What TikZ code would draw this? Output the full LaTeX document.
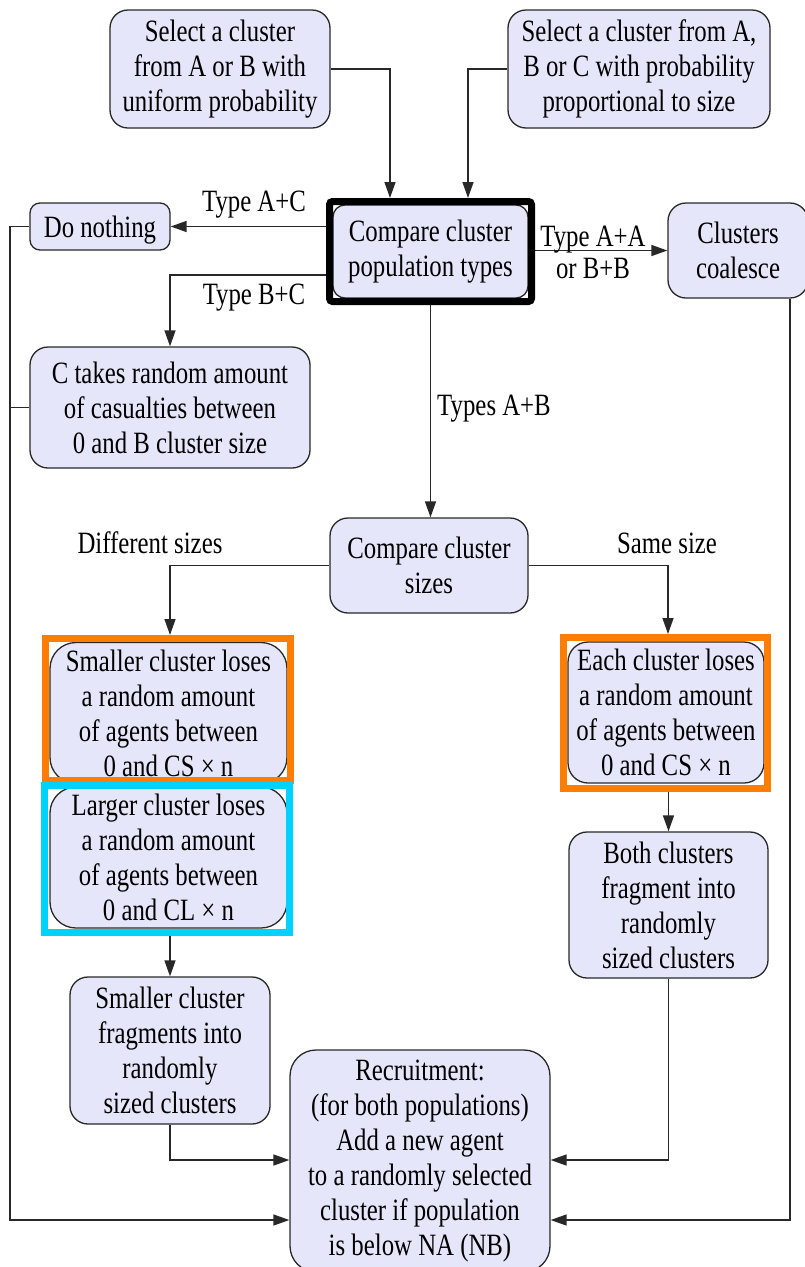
\documentclass[tikz,border=0pt]{standalone}
\usepackage{fontspec}
\setmainfont{Liberation Serif}[FakeStretch=0.8]
\usetikzlibrary{arrows.meta}
\definecolor{lav}{RGB}{230,230,250}
\definecolor{edge}{RGB}{40,40,40}
\definecolor{hlorange}{RGB}{255,125,0}
\definecolor{hlcyan}{RGB}{0,210,255}
\begin{document}
\begin{tikzpicture}[x=1pt,y=-1pt,
  box/.style={draw=edge, line width=1.3pt, fill=lav, rounded corners=18pt,
    align=center, inner sep=0pt, font=\fontsize{31}{35}\selectfont,
    execute at begin node={\rule{0pt}{29pt}}},
  lbl/.style={align=center, inner sep=0pt, font=\fontsize{31}{32}\selectfont},
  conn/.style={draw=edge, line width=1.4pt},
  arr/.style={conn, -{Triangle[length=16pt,width=11pt]}},
  hlframe/.style={draw, line width=7pt, inner sep=0pt}
]
\useasboundingbox (0,0) rectangle (804,1267);

% process boxes
\node[box, minimum width=220pt, minimum height=118pt] (sel1) at (220,69)
  {Select a cluster\\from A or B with\\uniform probability};
\node[box, minimum width=262pt, minimum height=118pt] (sel2) at (639,69)
  {Select a cluster from A,\\B or C with probability\\proportional to size};
\node[box, rounded corners=12pt, minimum width=195pt, minimum height=93pt] (cmp) at (430.5,251.5)
  {Compare cluster\\population types};
\node[hlframe, draw=black, rounded corners=3pt, minimum width=202pt, minimum height=100pt] (frame) at (430.5,251.5) {};
\node[box, rounded corners=10pt, minimum width=140pt, minimum height=47pt] (nothing) at (100,226.5)
  {Do nothing};
\node[box, minimum width=140pt, minimum height=95pt] (coal) at (738,250.5)
  {Clusters\\coalesce};
\node[box, minimum width=280pt, minimum height=121pt] (ctakes) at (170,407.5)
  {C takes random amount\\of casualties between\\0 and B cluster size};
\node[box, minimum width=198pt, minimum height=95pt] (sizes) at (429,565.5)
  {Compare cluster\\sizes};
\node[box, rounded corners=26pt, minimum width=237pt, minimum height=141pt] (smloses) at (168.5,713)
  {Smaller cluster loses\\a random amount\\of agents between\\0 and CS × n};
\node[box, rounded corners=26pt, minimum width=237pt, minimum height=141pt] (lgloses) at (168.5,857.5)
  {Larger cluster loses\\a random amount\\of agents between\\0 and CL × n};
\node[box, rounded corners=20pt, minimum width=196pt, minimum height=141pt] (each) at (666,712.5)
  {Each cluster loses\\a random amount\\of agents between\\0 and CS × n};
\node[box, minimum width=199pt, minimum height=146pt] (both) at (668.5,905)
  {Both clusters\\fragment into\\randomly\\sized clusters};
\node[box, minimum width=200pt, minimum height=147pt] (smfrag) at (170,1050.5)
  {Smaller cluster\\fragments into\\randomly\\sized clusters};
\node[box, rounded corners=26pt, minimum width=260pt, minimum height=222pt] (rec) at (420,1161)
  {Recruitment:\\(for both populations)\\Add a new agent\\to a randomly selected\\cluster if population\\is below NA (NB)};

% highlight frames
\node[hlframe, draw=hlorange, minimum width=245pt, minimum height=142pt] (ofL) at (168,709.5) {};
\node[hlframe, draw=hlorange, minimum width=204pt, minimum height=151pt] (ofR) at (665.5,713) {};
\node[hlframe, draw=hlcyan, minimum width=245pt, minimum height=147pt] (cyL) at (167,859) {};

% connectors
\draw[arr] (sel1.east) -| (390,0 |- frame.north);
\draw[arr] (sel2.west) -| (468,0 |- frame.north);
\draw[arr] (frame.west |- nothing.east) -- (nothing.east);
\draw[arr] (frame.west |- 0,275) -| (ctakes.north);
\draw[arr] (frame.east |- coal.west) -- (coal.west);
\draw[arr] (frame.south |- 0,305) -- (frame.south |- sizes.north);
\draw[arr] (sizes.west) -| (170,0 |- ofL.north);
\draw[arr] (sizes.east) -| (668,0 |- ofR.north);
\draw[arr] (smfrag.north |- cyL.south) -- (smfrag.north);
\draw[arr] (both.north |- ofR.south) -- (both.north);
\draw[arr] (smfrag.south) |- (rec.west |- 0,1160);
\draw[arr] (both.south) |- (rec.east |- 0,1160);
\draw[arr] (nothing.west) -| (10,1220) -- (rec.west |- 0,1220);
\draw[conn] (ctakes.west) -- (10,0 |- ctakes.west);
\draw[arr] (790,0 |- coal.south) -- (790,1220) -- (rec.east |- 0,1220);

% branch labels
\node[lbl] (lAC) at (254,205) {Type A+C};
\node[lbl] (lBC) at (254,298) {Type B+C};
\node[lbl] (lAA) at (593,252) {Type A+A\\or B+B};
\node[lbl] (lAB) at (494,409) {Types A+B};
\node[lbl] (ldiff) at (150,543) {Different sizes};
\node[lbl] (lsame) at (667,543) {Same size};
\end{tikzpicture}
\end{document}
